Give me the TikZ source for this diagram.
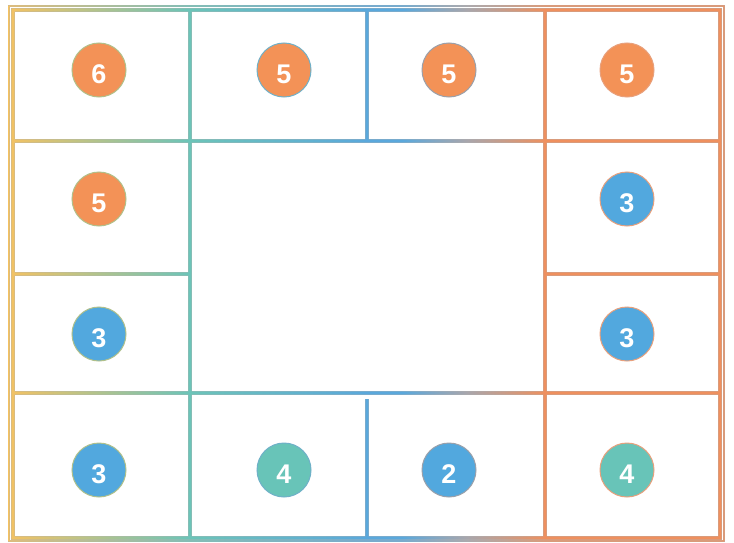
\documentclass[tikz,border=0pt]{standalone}
\usepackage{fontspec}
\setmainfont{Liberation Sans}
\definecolor{cy}{HTML}{F4C262}
\definecolor{ct}{HTML}{6CC4B8}
\definecolor{cb}{HTML}{5AA8DC}
\definecolor{cg}{HTML}{A8A6AC}
\definecolor{co}{HTML}{EF905E}
\definecolor{fo}{HTML}{F39257}
\definecolor{fb}{HTML}{52A8DE}
\definecolor{ft}{HTML}{68C4B8}
\definecolor{ra}{HTML}{B0C08A}
\definecolor{rb}{HTML}{6FB0C8}
\definecolor{rc}{HTML}{9AA0AA}
\definecolor{rd}{HTML}{E8A07C}
\pgfdeclarehorizontalshading{gridgrad}{100bp}{color(0bp)=(cy); color(25bp)=(cy); color(37.6bp)=(ct); color(50bp)=(cb); color(52.5bp)=(cb); color(57bp)=(cg); color(62.5bp)=(co); color(100bp)=(co)}
\newcommand{\dig}[1]{\raisebox{-4pt}[19pt][0pt]{#1}}
\tikzset{
  num/.style={circle, minimum size=54pt, inner sep=0pt, line width=1pt, text=white,
    font=\bfseries\fontsize{27}{27}\selectfont},
  gridline/.style={draw=black!30, line width=0.5pt}
}
\def\gridpath{
  (8.4,5.4) rectangle (724.6,6.6)
  (8.4,540.4) rectangle (724.6,541.6)
  (8.4,5.4) rectangle (9.6,541.6)
  (723.4,5.4) rectangle (724.6,541.6)
  (11.4,8.4) rectangle (721.6,11.6)
  (11.4,139.4) rectangle (721.6,142.6)
  (11.4,272.4) rectangle (190,275.6)
  (545,272.4) rectangle (721.6,275.6)
  (11.4,391.4) rectangle (721.6,394.6)
  (11.4,536.4) rectangle (721.6,539.6)
  (11.4,8.4) rectangle (14.6,539.6)
  (188.4,8.4) rectangle (191.6,539.6)
  (365.4,8.4) rectangle (368.6,142.6)
  (365.4,399) rectangle (368.6,539.6)
  (543.4,8.4) rectangle (546.6,539.6)
  (718.4,8.4) rectangle (721.6,539.6)
}
\begin{document}
\begin{tikzpicture}[x=1pt,y=-1pt]
\useasboundingbox (0,0) rectangle (734,543);
\path[gridline] \gridpath;
\shade[shading=gridgrad] \gridpath;
% row 1
\node[num, fill=fo, draw=ra] (n11) at (99,70) {\dig{6}};
\node[num, fill=fo, draw=rb] (n12) at (284,70) {\dig{5}};
\node[num, fill=fo, draw=rc] (n13) at (449,70) {\dig{5}};
\node[num, fill=fo, draw=rd] (n14) at (627,70) {\dig{5}};
% row 2
\node[num, fill=fo, draw=ra] (n21) at (99,199) {\dig{5}};
\node[num, fill=fb, draw=rd] (n24) at (627,199) {\dig{3}};
% row 3
\node[num, fill=fb, draw=ra] (n31) at (99,334) {\dig{3}};
\node[num, fill=fb, draw=rd] (n34) at (627,334) {\dig{3}};
% row 4
\node[num, fill=fb, draw=ra] (n41) at (99,470) {\dig{3}};
\node[num, fill=ft, draw=rb] (n42) at (284,470) {\dig{4}};
\node[num, fill=fb, draw=rc] (n43) at (449,470) {\dig{2}};
\node[num, fill=ft, draw=rd] (n44) at (627,470) {\dig{4}};
\end{tikzpicture}
\end{document}
